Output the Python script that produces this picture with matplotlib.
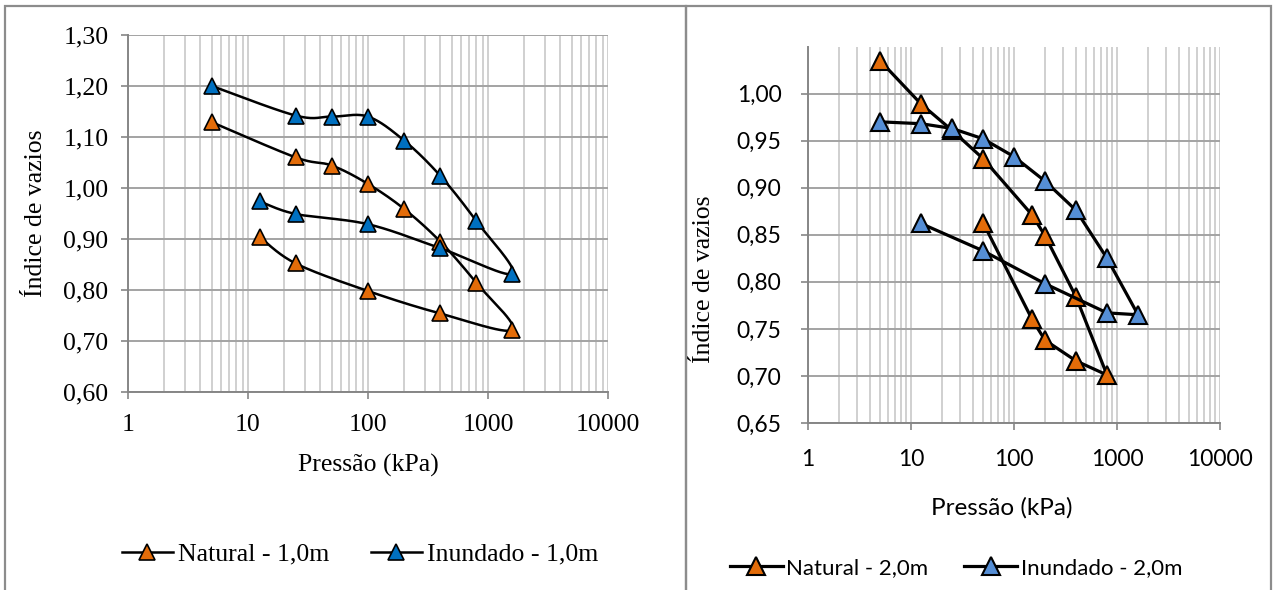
import numpy as np
import matplotlib
matplotlib.use("Agg")
import matplotlib.pyplot as plt
from matplotlib.ticker import FuncFormatter, LogLocator, FixedLocator, NullFormatter
from matplotlib.patches import Rectangle

# ---- Data: consolidation tests (pressure in kPa, void ratio) ----
nat1_p = [5, 25, 50, 100, 200, 400, 800, 1600, 400, 100, 25, 12.5]
nat1_e = [1.129, 1.060, 1.044, 1.008, 0.959, 0.895, 0.814, 0.722, 0.754, 0.798, 0.852, 0.904]

inu1_p = [5, 25, 50, 100, 200, 400, 800, 1600, 400, 100, 25, 12.5]
inu1_e = [1.200, 1.142, 1.140, 1.140, 1.093, 1.024, 0.935, 0.832, 0.882, 0.929, 0.949, 0.974]

nat2_p = [5, 12.5, 25, 50, 150, 200, 400, 800, 400, 200, 150, 50]
nat2_e = [1.035, 0.989, 0.961, 0.931, 0.871, 0.849, 0.784, 0.701, 0.716, 0.738, 0.760, 0.863]

inu2_p = [5, 12.5, 25, 50, 100, 200, 400, 800, 1600, 800, 200, 50, 12.5]
inu2_e = [0.970, 0.968, 0.963, 0.952, 0.933, 0.907, 0.876, 0.825, 0.765, 0.767, 0.798, 0.833, 0.862]

x_ticks = [1, 10, 100, 1000, 10000]
y_ticks_left = [0.60, 0.70, 0.80, 0.90, 1.00, 1.10, 1.20, 1.30]
y_ticks_right = [0.65, 0.70, 0.75, 0.80, 0.85, 0.90, 0.95, 1.00]

ORANGE = "#E36C09"
BLUE1 = "#0070C0"
BLUE2 = "#558ED5"
GRID_H = "#A3A3A3"
GRID_V = "#C4C4C4"
SPINE = "#868686"

W, H = 1277, 590


def smooth_curve(px, py, n=30):
    """Bezier smoothing through the points (log-x space), like spreadsheet 'smoothed lines'."""
    P = np.column_stack([np.log10(px), np.asarray(py, dtype=float)])
    m = len(P)
    out = []
    t = np.linspace(0, 1, n)[:, None]
    for i in range(m - 1):
        p0 = P[max(i - 1, 0)]
        p1 = P[i]
        p2 = P[i + 1]
        p3 = P[min(i + 2, m - 1)]
        c1 = p1 + (p2 - p0) / 6.0
        c2 = p2 - (p3 - p1) / 6.0
        seg = (1 - t) ** 3 * p1 + 3 * (1 - t) ** 2 * t * c1 + 3 * (1 - t) * t ** 2 * c2 + t ** 3 * p2
        out.append(seg if i == 0 else seg[1:])
    pts = np.vstack(out)
    return 10 ** pts[:, 0], pts[:, 1]


def comma(v, _pos):
    return f"{v:.2f}".replace(".", ",")


def style_axes(ax, yticks, ylim, tick_font, tick_size, xpad, ypad):
    ax.set_xscale("log")
    ax.set_xlim(1, 10000)
    ax.set_ylim(*ylim)
    ax.xaxis.set_major_locator(FixedLocator(x_ticks))
    ax.set_xticklabels([str(v) for v in x_ticks])
    ax.xaxis.set_minor_locator(LogLocator(base=10, subs=np.arange(2, 10), numticks=20))
    ax.xaxis.set_minor_formatter(NullFormatter())
    ax.yaxis.set_major_locator(FixedLocator(yticks))
    ax.yaxis.set_major_formatter(FuncFormatter(comma))
    ax.tick_params(axis="x", which="major", length=5, width=1.2, color=SPINE, pad=xpad)
    ax.tick_params(axis="x", which="minor", length=0)
    ax.tick_params(axis="y", which="major", length=5, width=1.2, color=SPINE, pad=ypad)
    for lab in ax.get_xticklabels() + ax.get_yticklabels():
        lab.set_fontfamily(tick_font)
        lab.set_fontsize(tick_size)
        lab.set_color("#000000")
    ax.grid(True, axis="x", which="both", color=GRID_V, lw=1.1, zorder=0)
    ax.grid(True, axis="y", which="major", color=GRID_H, lw=1.4, zorder=0)
    ax.set_axisbelow(True)
    for s in ("top", "right"):
        ax.spines[s].set_visible(False)
    for s in ("left", "bottom"):
        ax.spines[s].set_color(SPINE)
        ax.spines[s].set_linewidth(1.4)


fig = plt.figure(figsize=(W / 100, H / 100), dpi=100)
fig.patch.set_facecolor("white")

# Panel frames
frame_kw = dict(fill=False, edgecolor="#8C8C8C", lw=1.6, transform=fig.transFigure)
fig.patches.append(Rectangle((5 / W, -0.05), (686 - 5) / W, 1.05 - 6 / H, **frame_kw))
fig.patches.append(Rectangle((686 / W, -0.05), (1271 - 686) / W, 1.05 - 6 / H, **frame_kw))

# ---------------- Left chart (1,0 m) ----------------
axL = fig.add_axes([128 / W, 1 - 392 / H, 480 / W, 357 / H])
style_axes(axL, y_ticks_left, (0.60, 1.30), "Liberation Serif", 18.5, 11, 9)

for px, py, col, lab in [(nat1_p, nat1_e, ORANGE, "Natural - 1,0m"),
                         (inu1_p, inu1_e, BLUE1, "Inundado - 1,0m")]:
    sx, sy = smooth_curve(px, py)
    axL.plot(sx, sy, color="black", lw=1.8, zorder=3, solid_capstyle="round")
    axL.plot(px, py, linestyle="none", marker="^", ms=11, mfc=col, mec="black",
             mew=1.2, zorder=4)
    axL.plot([], [], color="black", lw=1.8, marker="^", ms=11, mfc=col, mec="black",
             mew=1.2, label=lab)

axL.set_xlabel("Pressão (kPa)", fontfamily="Liberation Serif", fontsize=18.5, labelpad=13)
axL.set_ylabel("Índice de vazios", fontfamily="Liberation Serif", fontsize=18.5)
axL.yaxis.set_label_coords(-(128 - 47) / 480, 0.5)
axL.legend(loc="center", bbox_to_anchor=(360 / W, 1 - 554 / H), bbox_transform=fig.transFigure,
           ncol=2, frameon=False, prop={"family": "Liberation Serif", "size": 18.5},
           handlelength=2.0, handletextpad=0.2, columnspacing=1.6)

# ---------------- Right chart (2,0 m) ----------------
axR = fig.add_axes([808 / W, 1 - 423 / H, 412 / W, 376 / H])
style_axes(axR, y_ticks_right, (0.65, 1.0495), "Lato", 16.5, 14, 14)

for px, py, col, lab in [(nat2_p, nat2_e, ORANGE, "Natural - 2,0m"),
                         (inu2_p, inu2_e, BLUE2, "Inundado - 2,0m")]:
    axR.plot(px, py, color="black", lw=2.3, marker="^", ms=13, mfc=col, mec="black",
             mew=1.5, zorder=3, label=lab)

axR.set_xlabel("Pressão (kPa)", fontfamily="Lato", fontsize=17.5)
axR.xaxis.set_label_coords((1002 - 808) / 412, -(497 - 423) / 376)
axR.set_ylabel("Índice de vazios", fontfamily="Liberation Serif", fontsize=18.5)
axR.yaxis.set_label_coords(-(808 - 715) / 412, (423 - 279) / 376)
axR.legend(loc="center", bbox_to_anchor=(956 / W, 1 - 568 / H), bbox_transform=fig.transFigure,
           ncol=2, frameon=False, prop={"family": "Lato", "size": 16},
           handlelength=2.4, handletextpad=0.15, columnspacing=1.6)

fig.savefig("out.png", dpi=100, facecolor="white")
